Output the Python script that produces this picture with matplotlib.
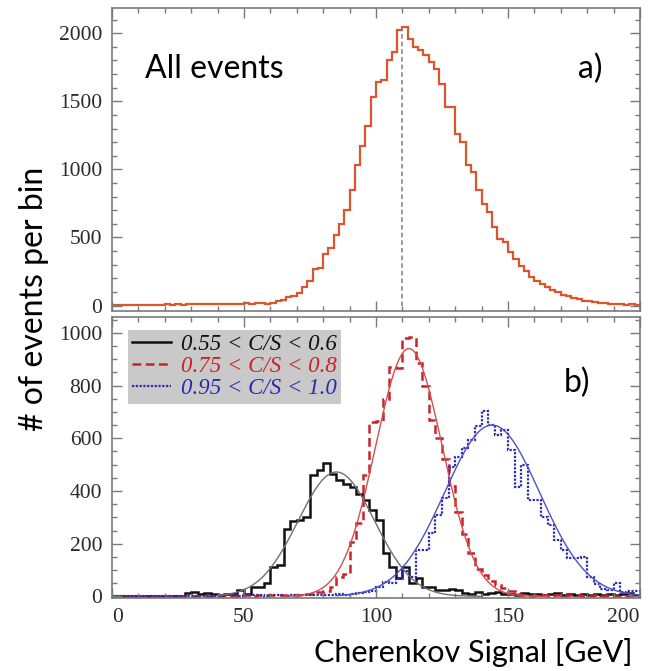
import numpy as np
import matplotlib.pyplot as plt
from matplotlib.ticker import MultipleLocator

# ---- panel a: all events, 2 GeV bins from 0 to 200 ----
all_width = 2.0
all_counts = [3, 2, 4, 3, 4, 5, 4, 6, 5, 7,
              9, 6, 8, 7, 9, 8, 10, 9, 11, 8,
              10, 12, 14, 11, 13, 17, 14, 19, 16, 15,
              18, 30, 38, 60, 68, 95, 135, 180, 265, 275,
              380, 425, 515, 600, 700, 845, 1035, 1175, 1315, 1530,
              1645, 1655, 1800, 1860, 2020, 2045, 1960, 1900, 1875, 1838,
              1790, 1740, 1630, 1458, 1458, 1262, 1200, 1030, 980, 845,
              748, 686, 576, 490, 465, 392, 343, 294, 257, 208,
              184, 159, 135, 115, 98, 79, 68, 57, 45, 37,
              30, 24, 22, 18, 15, 14, 10, 5, 8, 3]
peak_pos = 110.0

# ---- panel b: C/S slices, 2.5 GeV bins from 0 to 200 ----
cs_width = 2.5
cs_low = [0, 0, 0, 0, 0, 0, 0, 0, 0, 0,
          0, 12, 15, 8, 14, 10, 6, 9, 10, 25,
          10, 35, 35, 50, 110, 120, 255, 285, 290, 300,
          460, 480, 505, 465, 440, 428, 415, 390, 365, 327,
          289, 163, 111, 68, 111, 49, 68, 35, 35, 23,
          23, 28, 23, 12, 10, 15, 8, 12, 18, 8,
          10, 6, 12, 8, 10, 6, 8, 14, 6, 9,
          7, 10, 5, 8, 6, 10, 5, 8, 12, 6]
cs_mid = [0, 0, 0, 0, 0, 0, 0, 0, 0, 0,
          0, 0, 0, 0, 0, 0, 3, 5, 2, 4,
          6, 3, 5, 4, 6, 5, 4, 6, 5, 8,
          10, 15, 22, 35, 75, 85, 205, 280, 460, 660,
          665, 750, 870, 865, 980, 985, 885, 800, 670, 600,
          520, 420, 320, 235, 165, 105, 80, 58, 45, 33,
          22, 8, 5, 3, 6, 4, 3, 5, 2, 4,
          6, 3, 2, 4, 3, 5, 2, 3, 2, 1]
cs_high = [0, 0, 0, 0, 0, 0, 0, 0, 0, 0,
           0, 0, 0, 0, 0, 0, 0, 4, 6, 3,
           5, 4, 6, 3, 5, 4, 3, 5, 4, 6,
           5, 4, 6, 5, 8, 6, 10, 12, 15, 20,
           35, 55, 50, 70, 95, 75, 175, 175, 239, 308,
           372, 491, 530, 563, 593, 645, 703, 650, 612, 631,
           555, 415, 500, 365, 365, 300, 270, 213, 175, 144,
           144, 150, 73, 48, 29, 25, 50, 16, 20, 22]

# gaussian fits: amplitude, mean, sigma, drawn range
fit_low = (472, 85.0, 14.5, 40, 140)
fit_mid = (940, 112.5, 12.6, 65, 165)
fit_high = (650, 144.0, 18.0, 85, 200)

labels = ['0.55 < C/S < 0.6', '0.75 < C/S < 0.8', '0.95 < C/S < 1.0']
x_ticks = [0, 50, 100, 150, 200]

hist_colors = ['#111111', '#cc2229', '#2b2bb0']
fit_colors = ['#707070', '#d05050', '#5050c8']
orange = '#dc552c'
frame_gray = '#7a7a7a'

sans = ['Lato', 'DejaVu Sans']
serif = ['Liberation Serif', 'DejaVu Serif']
plt.rcParams['font.family'] = serif

fig = plt.figure(figsize=(6.51, 6.71), dpi=100)
ax_top = fig.add_axes([0.172, 0.5365, 0.811, 0.4516])
ax_bot = fig.add_axes([0.172, 0.1088, 0.811, 0.4188])


def style_axes(ax):
    for sp in ax.spines.values():
        sp.set_color(frame_gray)
        sp.set_linewidth(1.2)
    ax.tick_params(which='both', direction='in', top=True, right=True,
                   color=frame_gray, width=1.0)
    ax.tick_params(which='major', length=7, labelsize=15.5,
                   labelcolor='#2a2a2a', pad=7)
    ax.tick_params(which='minor', length=3.5)
    ax.set_xticks(x_ticks)
    ax.xaxis.set_minor_locator(MultipleLocator(10))
    ax.set_xlim(0, 200)


# top panel
edges_all = np.arange(len(all_counts) + 1) * all_width
ax_top.stairs(all_counts, edges_all, color=orange, lw=1.6)
ax_top.plot([peak_pos, peak_pos], [0, all_counts[int(peak_pos // all_width)]],
            color='#808080', lw=1.1, ls=(0, (3, 2)))
ax_top.set_ylim(-40, 2185)
ax_top.yaxis.set_major_locator(MultipleLocator(500))
ax_top.yaxis.set_minor_locator(MultipleLocator(100))
style_axes(ax_top)
ax_top.tick_params(labelbottom=False)
ax_top.text(0.063, 0.80, 'All events', transform=ax_top.transAxes,
            fontsize=23, family=sans, va='center', ha='left')
ax_top.text(0.883, 0.80, 'a)', transform=ax_top.transAxes,
            fontsize=23, family=sans, va='center', ha='left')

# bottom panel
edges_cs = np.arange(len(cs_low) + 1) * cs_width
styles = [dict(ls='-', lw=1.8),
          dict(ls=(0, (3.5, 1.8)), lw=1.8),
          dict(ls=(0, (1, 0.7)), lw=1.6)]
for counts, fit, hc, fc, st, lab in zip([cs_low, cs_mid, cs_high],
                                        [fit_low, fit_mid, fit_high],
                                        hist_colors, fit_colors, styles, labels):
    amp, mu, sig, x0, x1 = fit
    xs = np.linspace(x0, x1, 300)
    ax_bot.plot(xs, amp * np.exp(-0.5 * ((xs - mu) / sig) ** 2),
                color=fc, lw=1.0)
    ax_bot.stairs(counts, edges_cs, color=hc, label=lab, **st)

ax_bot.set_ylim(-6, 1060)
ax_bot.yaxis.set_major_locator(MultipleLocator(200))
ax_bot.yaxis.set_minor_locator(MultipleLocator(50))
style_axes(ax_bot)
ax_bot.set_xticklabels([str(t) for t in x_ticks])
xlabs = ax_bot.get_xticklabels()
xlabs[0].set_ha('left')
xlabs[-1].set_ha('right')

proxies = [plt.Line2D([], [], color=c, **st) for c, st in zip(hist_colors, styles)]
leg = ax_bot.legend(proxies, labels, loc='upper left',
                    bbox_to_anchor=(0.03, 0.955), frameon=True, fancybox=False,
                    facecolor='#c9c9c9', edgecolor='none', framealpha=1,
                    prop={'family': serif, 'style': 'italic', 'size': 16.5},
                    handlelength=1.7, handletextpad=0.4, labelspacing=0.04,
                    borderpad=0.2, borderaxespad=0)
for txt, c in zip(leg.get_texts(), hist_colors):
    txt.set_color(c)

ax_bot.text(0.855, 0.765, 'b)', transform=ax_bot.transAxes,
            fontsize=23, family=sans, va='center', ha='left')

fig.text(0.052, 0.555, '# of events per bin', rotation=90, fontsize=23,
         family=sans, ha='center', va='center')
fig.text(0.971, 0.028, 'Cherenkov Signal [GeV]', fontsize=22,
         family=sans, ha='right', va='center')

fig.savefig('out.png', dpi=100)
